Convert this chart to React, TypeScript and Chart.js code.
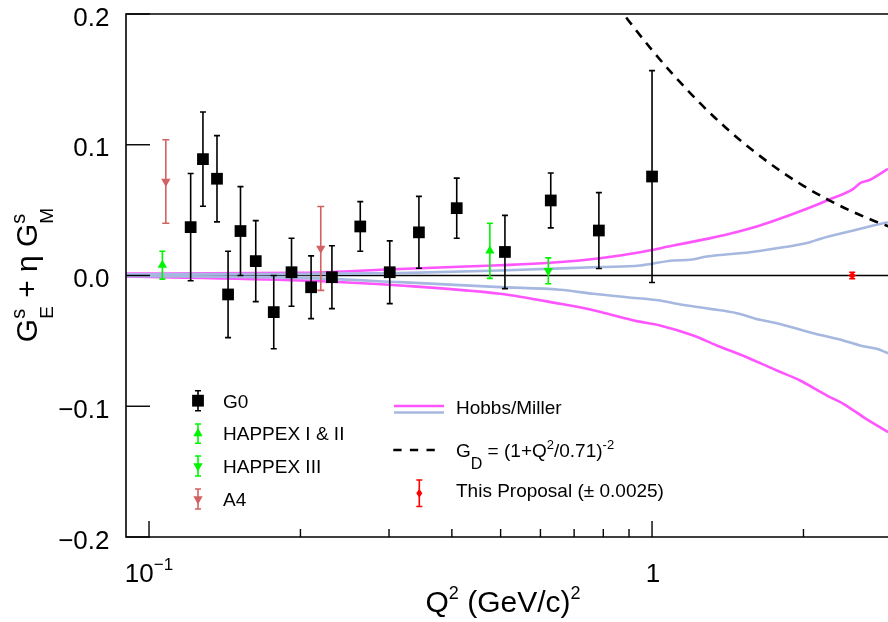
import React, { useEffect, useRef } from "react";
import { Chart, registerables } from "chart.js";

Chart.register(...registerables);

const FONT = '"Liberation Sans", Arial, Helvetica, sans-serif';

// ---- measurements: Q^2 (GeV/c)^2, value, error ----
const G0_Q2 = [0.121, 0.128, 0.1365, 0.1436, 0.152, 0.163, 0.177, 0.192, 0.21, 0.231, 0.263, 0.301, 0.344, 0.409, 0.51, 0.629, 0.784, 1.0];
const G0_VAL = [0.037, 0.089, 0.074, -0.0145, 0.034, 0.011, -0.028, 0.0025, -0.009, -0.0013, 0.0375, 0.0025, 0.033, 0.0515, 0.018, 0.0574, 0.0344, 0.0757];
const G0_ERR = [0.041, 0.036, 0.033, 0.033, 0.034, 0.031, 0.028, 0.026, 0.024, 0.024, 0.019, 0.024, 0.0275, 0.023, 0.028, 0.021, 0.029, 0.081];

const HAPPEX12_Q2 = [0.1063, 0.476];
const HAPPEX12_VAL = [0.0079, 0.0189];
const HAPPEX12_ERR = [0.0107, 0.0211];

const HAPPEX3_Q2 = [0.622];
const HAPPEX3_VAL = [0.0036];
const HAPPEX3_ERR = [0.0099];

const A4_Q2 = [0.108, 0.2195];
const A4_VAL = [0.0719, 0.0207];
const A4_ERR = [0.0319, 0.0321];

const PROPOSAL_Q2 = [2.5];
const PROPOSAL_VAL = [0.0];
const PROPOSAL_ERR = [0.0025];

// ---- Hobbs/Miller bands ----
const HM_MAG_UP_Q2 = [0.09, 0.2, 0.3155, 0.4985, 0.627, 0.788, 0.9466, 1.102, 1.285, 1.408, 1.639, 1.853, 2.03, 2.228, 2.513, 2.592, 2.713, 2.945];
const HM_MAG_UP = [0.0015, 0.002, 0.005, 0.0078, 0.0097, 0.0132, 0.0178, 0.0229, 0.028, 0.0313, 0.0382, 0.0453, 0.051, 0.0574, 0.0663, 0.0706, 0.0732, 0.0816];
const HM_MAG_LO_Q2 = [0.09, 0.2, 0.3155, 0.4985, 0.656, 0.742, 0.8, 0.932, 1.037, 1.208, 1.345, 1.543, 1.77, 1.969, 2.228, 2.4, 2.631, 2.945];
const HM_MAG_LO = [-0.0008, -0.0038, -0.0076, -0.014, -0.0216, -0.0255, -0.0285, -0.0349, -0.0382, -0.0459, -0.0535, -0.0625, -0.0727, -0.0803, -0.0918, -0.0981, -0.1083, -0.1198];
const HM_BLUE_UP_Q2 = [0.09, 0.2, 0.3155, 0.4985, 0.788, 0.9466, 1.102, 1.19, 1.285, 1.566, 1.742, 2.061, 2.158, 2.513, 2.754, 2.945];
const HM_BLUE_UP = [0.001, 0.0012, 0.0018, 0.0038, 0.0065, 0.0076, 0.0115, 0.012, 0.0145, 0.0178, 0.0204, 0.0255, 0.028, 0.0344, 0.0382, 0.0408];
const HM_BLUE_LO_Q2 = [0.09, 0.2, 0.3155, 0.4985, 0.656, 0.764, 0.891, 1.037, 1.12, 1.304, 1.474, 1.639, 1.77, 2.093, 2.4, 2.592, 2.797, 2.945];
const HM_BLUE_LO = [-0.0004, -0.0018, -0.0051, -0.0089, -0.0109, -0.014, -0.0166, -0.0191, -0.0216, -0.0255, -0.0288, -0.0339, -0.0365, -0.0442, -0.0497, -0.0535, -0.0561, -0.0594];

// ---- dipole form factor G_D ----
const GD_Q2 = [0.85, 0.9, 1.0, 1.1, 1.25, 1.4, 1.6, 1.8, 2.0, 2.25, 2.5, 2.75, 3.0];
const GD_VAL = [0.2071, 0.1945, 0.1724, 0.1539, 0.1312, 0.1132, 0.0945, 0.08, 0.0686, 0.0575, 0.0489, 0.0421, 0.0366];

// ---- axes ----
const X_MIN = 0.09;
const X_MAX = 2.945;
const Y_MIN = -0.2;
const Y_MAX = 0.2;
const X_MAJOR = [0.1, 1];
const X_MINOR = [0.2, 0.3, 0.4, 0.5, 0.6, 0.7, 0.8, 0.9, 2];
const Y_TICKS = [-0.2, -0.1, 0, 0.1, 0.2];
const Y_LABELS = ["\u22120.2", "\u22120.1", "0.0", "0.1", "0.2"];

const MAGENTA = "rgb(255, 85, 255)";
const LIGHT_BLUE = "rgb(166, 184, 224)";
const GREEN = "rgb(0, 245, 0)";
const A4_RED = "rgb(210, 98, 98)";
const PROP_RED = "rgb(255, 0, 0)";
const CURVE_WIDTH = 2.6;

const pts = (xs: number[], ys: number[]) => xs.map((x, i) => ({ x, y: ys[i] }));

type Piece = { t: string; sup?: string; sub?: string };
type RichStyle = { size: number; supSize: number; rise: number; subSize: number; drop: number };

function measureRich(ctx: CanvasRenderingContext2D, pieces: Piece[], st: RichStyle) {
  let w = 0;
  for (const p of pieces) {
    ctx.font = `${st.size}px ${FONT}`;
    w += ctx.measureText(p.t).width;
    ctx.font = `${st.supSize}px ${FONT}`;
    const a = p.sup ? ctx.measureText(p.sup).width : 0;
    ctx.font = `${st.subSize}px ${FONT}`;
    const b = p.sub ? ctx.measureText(p.sub).width : 0;
    w += Math.max(a, b);
  }
  return w;
}

function drawRich(ctx: CanvasRenderingContext2D, pieces: Piece[], x: number, y: number, st: RichStyle) {
  let cx = x;
  ctx.textAlign = "left";
  ctx.textBaseline = "alphabetic";
  for (const p of pieces) {
    ctx.font = `${st.size}px ${FONT}`;
    ctx.fillText(p.t, cx, y);
    cx += ctx.measureText(p.t).width;
    let a = 0;
    let b = 0;
    if (p.sup) {
      ctx.font = `${st.supSize}px ${FONT}`;
      ctx.fillText(p.sup, cx, y - st.rise);
      a = ctx.measureText(p.sup).width;
    }
    if (p.sub) {
      ctx.font = `${st.subSize}px ${FONT}`;
      ctx.fillText(p.sub, cx, y + st.drop);
      b = ctx.measureText(p.sub).width;
    }
    cx += Math.max(a, b);
  }
}

function errorBar(ctx: CanvasRenderingContext2D, x: number, y1: number, y2: number, cap: number, color: string) {
  ctx.strokeStyle = color;
  ctx.lineWidth = 1.6;
  ctx.beginPath();
  ctx.moveTo(x, y1);
  ctx.lineTo(x, y2);
  ctx.moveTo(x - cap, y1);
  ctx.lineTo(x + cap, y1);
  ctx.moveTo(x - cap, y2);
  ctx.lineTo(x + cap, y2);
  ctx.stroke();
}

function marker(ctx: CanvasRenderingContext2D, kind: string, x: number, y: number, color: string) {
  ctx.fillStyle = color;
  ctx.beginPath();
  if (kind === "square") {
    ctx.rect(x - 5.9, y - 5.9, 11.8, 11.8);
  } else if (kind === "up") {
    const r = 5.4;
    ctx.moveTo(x, y - r);
    ctx.lineTo(x + r * 0.866, y + r / 2);
    ctx.lineTo(x - r * 0.866, y + r / 2);
    ctx.closePath();
  } else if (kind === "down") {
    const r = 5.4;
    ctx.moveTo(x, y + r);
    ctx.lineTo(x + r * 0.866, y - r / 2);
    ctx.lineTo(x - r * 0.866, y - r / 2);
    ctx.closePath();
  } else {
    ctx.moveTo(x, y - 4.5);
    ctx.lineTo(x + 3, y);
    ctx.lineTo(x, y + 4.5);
    ctx.lineTo(x - 3, y);
    ctx.closePath();
  }
  ctx.fill();
}

const decorPlugin = {
  id: "decor",
  beforeDatasetsDraw(chart: any) {
    const { ctx, chartArea, scales } = chart;
    const y0 = scales.y.getPixelForValue(0);
    ctx.save();
    ctx.strokeStyle = "#000";
    ctx.lineWidth = 1.3;
    ctx.beginPath();
    ctx.moveTo(chartArea.left, y0);
    ctx.lineTo(chartArea.right, y0);
    ctx.stroke();
    ctx.restore();
  },
  beforeDatasetDraw(chart: any, args: any) {
    const ds = chart.data.datasets[args.index];
    if (!ds.errors) return;
    const { ctx, scales } = chart;
    ctx.save();
    ds.data.forEach((p: any, i: number) => {
      const px = scales.x.getPixelForValue(p.x);
      const e = ds.errors[i];
      errorBar(ctx, px, scales.y.getPixelForValue(p.y + e), scales.y.getPixelForValue(p.y - e), ds.capHalf, ds.errColor);
    });
    ctx.restore();
  },
  afterDraw(chart: any) {
    const { ctx, chartArea, scales } = chart;
    const { left, right, top, bottom } = chartArea;
    ctx.save();
    ctx.fillStyle = "#000";
    ctx.strokeStyle = "#000";

    // frame
    ctx.lineWidth = 1.6;
    ctx.beginPath();
    ctx.moveTo(right + 2, top);
    ctx.lineTo(left, top);
    ctx.lineTo(left, bottom);
    ctx.lineTo(right + 2, bottom);
    ctx.stroke();

    // y ticks and labels
    ctx.lineWidth = 1.4;
    Y_TICKS.forEach((v, i) => {
      const py = scales.y.getPixelForValue(v);
      ctx.beginPath();
      ctx.moveTo(left, py);
      ctx.lineTo(left + 24, py);
      ctx.stroke();
      ctx.font = `26px ${FONT}`;
      ctx.textAlign = "right";
      ctx.textBaseline = "alphabetic";
      ctx.fillText(Y_LABELS[i], 109.5, py + 11.5);
    });

    // x ticks
    X_MAJOR.forEach((q) => {
      const px = scales.x.getPixelForValue(q);
      ctx.beginPath();
      ctx.moveTo(px, bottom);
      ctx.lineTo(px, bottom - 16);
      ctx.stroke();
    });
    X_MINOR.forEach((q) => {
      const px = scales.x.getPixelForValue(q);
      ctx.beginPath();
      ctx.moveTo(px, bottom);
      ctx.lineTo(px, bottom - 8);
      ctx.stroke();
    });

    // x tick labels
    const tickStyle = { size: 26, supSize: 17, rise: 12, subSize: 17, drop: 0 };
    const dec: Piece[] = [{ t: "10", sup: "\u22121" }];
    const w10 = measureRich(ctx, dec, tickStyle);
    drawRich(ctx, dec, scales.x.getPixelForValue(0.1) - w10 / 2, 582, tickStyle);
    ctx.font = `26px ${FONT}`;
    ctx.textAlign = "center";
    ctx.fillText("1", scales.x.getPixelForValue(1) + 1, 582);

    // axis titles
    const xTitle: Piece[] = [{ t: "Q", sup: "2" }, { t: " (GeV/c)", sup: "2" }];
    const xStyle = { size: 30, supSize: 18, rise: 13, subSize: 18, drop: 0 };
    const wx = measureRich(ctx, xTitle, xStyle);
    drawRich(ctx, xTitle, 503 - wx / 2, 612, xStyle);

    const yTitle: Piece[] = [{ t: "G", sup: "s", sub: "E" }, { t: " + \u03b7 " }, { t: "G", sup: "s", sub: "M" }];
    const yStyle = { size: 30, supSize: 20, rise: 12, subSize: 19, drop: 16 };
    const wy = measureRich(ctx, yTitle, yStyle);
    ctx.save();
    ctx.translate(37, 275);
    ctx.rotate(-Math.PI / 2);
    drawRich(ctx, yTitle, -wy / 2, 0, yStyle);
    ctx.restore();

    // legend: measurements
    const legFont = `19px ${FONT}`;
    const rows = [
      { name: "G0", kind: "square", color: "#000", cy: 400.7, y1: 390.7, y2: 410.7, base: 407.5 },
      { name: "HAPPEX I & II", kind: "up", color: GREEN, cy: 433.5, y1: 424, y2: 443.3, base: 440 },
      { name: "HAPPEX III", kind: "down", color: GREEN, cy: 466, y1: 456, y2: 476, base: 472.7 },
      { name: "A4", kind: "down", color: A4_RED, cy: 499, y1: 489, y2: 509, base: 505.7 },
    ];
    rows.forEach((r) => {
      errorBar(ctx, 198, r.y1, r.y2, 3, r.color);
      marker(ctx, r.kind, 198, r.cy, r.color);
      ctx.fillStyle = "#000";
      ctx.font = legFont;
      ctx.textAlign = "left";
      ctx.fillText(r.name, 223, r.base);
    });

    // legend: models and proposal
    ctx.lineWidth = CURVE_WIDTH;
    ctx.strokeStyle = MAGENTA;
    ctx.beginPath();
    ctx.moveTo(394, 406);
    ctx.lineTo(444, 406);
    ctx.stroke();
    ctx.strokeStyle = LIGHT_BLUE;
    ctx.beginPath();
    ctx.moveTo(394, 412.5);
    ctx.lineTo(444, 412.5);
    ctx.stroke();
    ctx.fillStyle = "#000";
    ctx.font = legFont;
    ctx.textAlign = "left";
    ctx.fillText("Hobbs/Miller", 456, 414);

    ctx.strokeStyle = "#000";
    ctx.lineWidth = 2.6;
    ctx.setLineDash([8.3, 8.3]);
    ctx.beginPath();
    ctx.moveTo(393.3, 450);
    ctx.lineTo(443, 450);
    ctx.stroke();
    ctx.setLineDash([]);
    const gd: Piece[] = [{ t: "G", sub: "D" }, { t: " = (1+Q", sup: "2" }, { t: "/0.71)", sup: "-2" }];
    drawRich(ctx, gd, 456, 456.7, { size: 19, supSize: 13, rise: 8, subSize: 16, drop: 12 });

    errorBar(ctx, 419.3, 480, 506.5, 3, PROP_RED);
    marker(ctx, "diamond", 419.3, 493.3, PROP_RED);
    ctx.fillStyle = "#000";
    ctx.font = legFont;
    ctx.textAlign = "left";
    ctx.fillText("This Proposal (\u00b1 0.0025)", 456, 497);

    ctx.restore();
  },
};

export default function App() {
  const ref = useRef<HTMLCanvasElement>(null);

  useEffect(() => {
    const canvas = ref.current;
    if (!canvas) return;

    const curve = (data: any, color: string, width: number, dash: number[] = []) => ({
      data,
      showLine: true,
      borderColor: color,
      borderWidth: width,
      borderDash: dash,
      pointRadius: 0,
      cubicInterpolationMode: "monotone",
      clip: 0,
    });

    const points = (data: any, errors: number[], style: string, radius: number, color: string, cap: number, rotation = 0) => ({
      data,
      errors,
      errColor: color,
      capHalf: cap,
      showLine: false,
      pointStyle: style,
      pointRadius: radius,
      pointRotation: rotation,
      pointBackgroundColor: color,
      backgroundColor: color,
      pointBorderWidth: 0,
      borderWidth: 0,
    });

    const chart = new Chart(canvas, {
      type: "scatter",
      data: {
        datasets: [
          points(pts(PROPOSAL_Q2, PROPOSAL_VAL), PROPOSAL_ERR, "rectRot", 3.8, PROP_RED, 3),
          points(pts(A4_Q2, A4_VAL), A4_ERR, "triangle", 5.4, A4_RED, 3.5, 180),
          points(pts(HAPPEX3_Q2, HAPPEX3_VAL), HAPPEX3_ERR, "triangle", 5.4, GREEN, 3, 180),
          points(pts(HAPPEX12_Q2, HAPPEX12_VAL), HAPPEX12_ERR, "triangle", 5.4, GREEN, 3),
          points(pts(G0_Q2, G0_VAL), G0_ERR, "rect", 8.3, "#000", 3),
          curve(pts(GD_Q2, GD_VAL), "#000", 2.6, [9, 7]),
          curve(pts(HM_BLUE_UP_Q2, HM_BLUE_UP), LIGHT_BLUE, CURVE_WIDTH),
          curve(pts(HM_BLUE_LO_Q2, HM_BLUE_LO), LIGHT_BLUE, CURVE_WIDTH),
          curve(pts(HM_MAG_UP_Q2, HM_MAG_UP), MAGENTA, CURVE_WIDTH),
          curve(pts(HM_MAG_LO_Q2, HM_MAG_LO), MAGENTA, CURVE_WIDTH),
        ] as any,
      },
      options: {
        animation: false,
        responsive: false,
        devicePixelRatio: 1,
        events: [],
        layout: { autoPadding: false, padding: { left: 126, right: 0, top: 14, bottom: 85 } },
        plugins: { legend: { display: false }, tooltip: { enabled: false }, title: { display: false } },
        scales: {
          x: { type: "logarithmic", min: X_MIN, max: X_MAX, bounds: "data", display: false },
          y: { type: "linear", min: Y_MIN, max: Y_MAX, bounds: "data", display: false },
        },
      } as any,
      plugins: [decorPlugin],
    });

    return () => chart.destroy();
  }, []);

  return (
    <canvas
      ref={ref}
      width={888}
      height={622}
      style={{ position: "absolute", left: 0, top: 0, width: "888px", height: "622px", background: "#fff" }}
    />
  );
}
